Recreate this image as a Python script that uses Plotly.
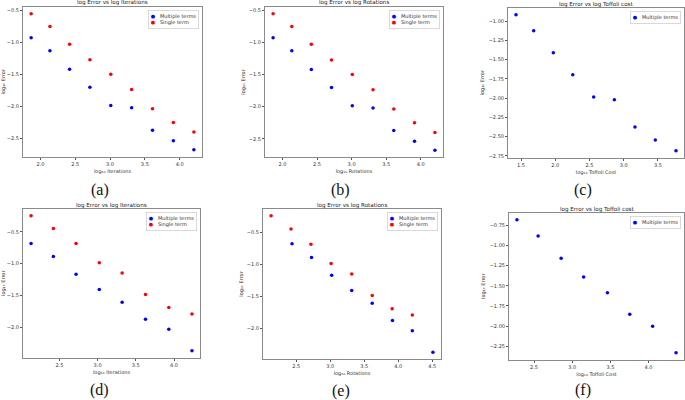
import plotly.graph_objects as go

W, H = 685, 400

# ---------------- data ----------------
# Panels (a) and (b): same x values (log10 Iterations / log10 Rotations)
x_ab = [1.865, 2.135, 2.418, 2.71, 3.01, 3.31, 3.61, 3.91, 4.205]
multi_ab = [-0.925, -1.128, -1.42, -1.70, -1.985, -2.02, -2.372, -2.538, -2.677]
single_ab = [-0.552, -0.75, -1.027, -1.271, -1.496, -1.735, -2.037, -2.25, -2.40]
# Panel (c): log10 Toffoli cost
x_c = [1.427, 1.685, 1.972, 2.256, 2.561, 2.863, 3.164, 3.461, 3.763]
multi_c = [-0.917, -1.123, -1.412, -1.697, -1.987, -2.022, -2.377, -2.544, -2.684]
# Panel (d)
x_d = [2.129, 2.421, 2.718, 3.022, 3.321, 3.627, 3.932, 4.235]
multi_d = [-0.684, -0.889, -1.168, -1.405, -1.605, -1.874, -2.032, -2.368]
single_d = [-0.247, -0.447, -0.684, -0.984, -1.147, -1.484, -1.689, -1.789]
# Panel (e)
x_e_multi = [2.437, 2.724, 3.02, 3.315, 3.617, 3.915, 4.207, 4.51]
x_e_single = [2.129, 2.422, 2.715, 3.012, 3.315, 3.617, 3.91, 4.207]
multi_e = [-0.677, -0.889, -1.168, -1.405, -1.605, -1.874, -2.032, -2.368]
single_e = [-0.240, -0.447, -0.684, -0.984, -1.147, -1.484, -1.689, -1.789]
# Panel (f)
x_f = [2.276, 2.553, 2.855, 3.149, 3.461, 3.754, 4.053, 4.36]
multi_f = [-0.679, -0.883, -1.158, -1.392, -1.588, -1.854, -2.004, -2.333]

titles = ["log Error vs log Iterations", "log Error vs log Rotations", "log Error vs log Toffoli cost",
          "log Error vs log Iterations", "log Error vs log Rotations", "log Error vs log Toffoli cost"]
xlabels = ["log₁₀ Iterations", "log₁₀ Rotations", "log₁₀ Toffoli Cost",
           "log₁₀ Iterations", "log₁₀ Rotations", "log₁₀ Toffoli Cost"]
ylabel = "log₁₀ Error"
captions = ["(a)", "(b)", "(c)", "(d)", "(e)", "(f)"]

# panel boxes in pixels: left, right, top, bottom
boxes = [(23, 202, 7, 156.5), (265, 443, 7, 157), (508, 684, 8, 157.5),
         (23, 200, 209, 357.5), (263, 441, 209, 359), (509, 684, 213, 359.5)]
caption_pos = [(100, 190), (340, 190), (583, 190), (100, 390), (341, 391), (583, 390)]
ytick_fmt = [".1f", ".1f", ".2f", ".1f", ".1f", ".2f"]
ytick_step = [0.5, 0.5, 0.25, 0.5, 0.5, 0.25]

panels = [
    [(x_ab, multi_ab, "Multiple terms", "blue"), (x_ab, single_ab, "Single term", "red")],
    [(x_ab, multi_ab, "Multiple terms", "blue"), (x_ab, single_ab, "Single term", "red")],
    [(x_c, multi_c, "Multiple terms", "blue")],
    [(x_d, multi_d, "Multiple terms", "blue"), (x_d, single_d, "Single term", "red")],
    [(x_e_multi, multi_e, "Multiple terms", "blue"), (x_e_single, single_e, "Single term", "red")],
    [(x_f, multi_f, "Multiple terms", "blue")],
]


def padded(vals):
    lo, hi = min(vals), max(vals)
    r = hi - lo
    return [lo - 0.05 * r, hi + 0.05 * r]


fig = go.Figure()
FONT = "DejaVu Sans"
annotations = []
layout = {}
for i, series in enumerate(panels):
    n = i + 1
    sfx = "" if n == 1 else str(n)
    allx = [v for s in series for v in s[0]]
    ally = [v for s in series for v in s[1]]
    for xs, ys, name, col in series:
        fig.add_trace(go.Scatter(x=xs, y=ys, mode="markers", name=name, showlegend=False,
                                 marker=dict(color=col, size=3.5, line=dict(width=0)),
                                 xaxis="x" + sfx, yaxis="y" + sfx))
    l, r, t, b = boxes[i]
    axcommon = dict(showgrid=False, zeroline=False, showline=True, linecolor="#8a8a8a",
                    linewidth=1, mirror=True, ticks="outside", ticklen=2, tickwidth=0.7,
                    tickcolor="#555", tickfont=dict(size=5, color="#333", family=FONT))
    layout["xaxis" + sfx] = dict(domain=[l / W, r / W], anchor="y" + sfx, range=padded(allx),
                                 dtick=0.5, tick0=0, tickformat=".1f",
                                 title=dict(text=xlabels[i], font=dict(size=5, color="#333", family=FONT),
                                            standoff=3), **axcommon)
    layout["yaxis" + sfx] = dict(domain=[1 - b / H, 1 - t / H], anchor="x" + sfx, range=padded(ally),
                                 dtick=ytick_step[i], tick0=0, tickformat=ytick_fmt[i],
                                 title=dict(text=ylabel, font=dict(size=5, color="#333", family=FONT),
                                            standoff=3), **axcommon)
    # panel title
    annotations.append(dict(text=titles[i], xref="paper", yref="paper", x=(l + r) / 2 / W,
                            y=1 - t / H, xanchor="center", yanchor="middle", yshift=4, showarrow=False,
                            font=dict(size=5.6, color="#222", family=FONT)))
    # legend box
    lines = []
    for xs, ys, name, col in series:
        lines.append(f"<span style='color:{col}'>●</span>   {name}")
    annotations.append(dict(text="<br>".join(lines), xref=f"x{sfx} domain", yref=f"y{sfx} domain",
                            x=1, y=1, xanchor="right", yanchor="top", xshift=-3, yshift=-3,
                            align="left", showarrow=False, bgcolor="white", bordercolor="#d0d0d0",
                            borderwidth=0.8, borderpad=2, font=dict(size=5, color="#333", family=FONT)))
    # caption
    cx, cy = caption_pos[i]
    annotations.append(dict(text=captions[i], xref="paper", yref="paper", x=cx / W, y=1 - cy / H,
                            xanchor="center", yanchor="middle", showarrow=False,
                            font=dict(size=16, color="#111", family="Liberation Serif")))

fig.update_layout(width=W, height=H, margin=dict(l=0, r=0, t=0, b=0), plot_bgcolor="white",
                  paper_bgcolor="white", showlegend=False, annotations=annotations, **layout)
fig.write_html("out.html", config={"displayModeBar": False})

# remove the default page margin so the figure sits at the window's top-left corner
with open("out.html", encoding="utf-8") as fh:
    html = fh.read()
html = html.replace("<head>", "<head><style>html,body{margin:0;padding:0;overflow:hidden}</style>", 1)
with open("out.html", "w", encoding="utf-8") as fh:
    fh.write(html)
